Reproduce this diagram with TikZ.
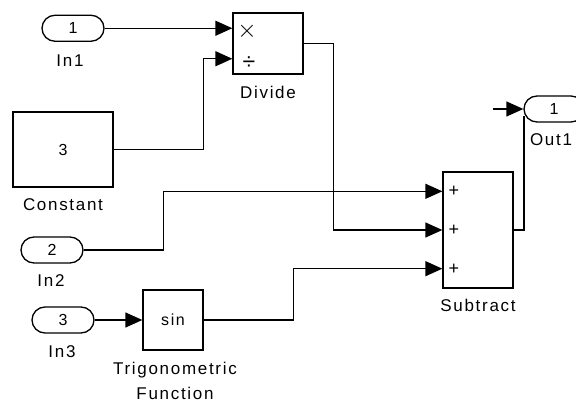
\documentclass[tikz,border=0pt]{standalone}
\usepackage{fontspec}
\setmainfont{Liberation Sans}[LetterSpace=10]
\usepackage{tikz}
\usetikzlibrary{arrows.meta, positioning, shapes.misc}

\begin{document}
\begin{tikzpicture}[
        x=1pt, y=-1pt,
        portnode/.style={rounded rectangle, draw=black, fill=white, line width=1.3pt, minimum width=62pt, minimum height=26pt, inner sep=0pt, font=\fontsize{16}{16}\selectfont},
        blocknode/.style={rectangle, draw=black, fill=white, line width=1.3pt, inner sep=0pt, font=\fontsize{16}{16}\selectfont},
        nametext/.style={inner sep=0pt, align=center, font=\fontsize{17}{25}\selectfont},
        signsym/.style={inner sep=0pt},
        signal/.style={-{Triangle[length=17pt, width=15pt]}, line width=1.3pt, color=black},
        wire/.style={line width=1.3pt, color=black}
    ]
        \useasboundingbox (0,0) rectangle (576,403);
        \clip (0,0) rectangle (576,403);

        % Inports and outport
        \node[portnode] (in1) at (73, 28.25) {1};
        \node[portnode] (in2) at (52, 250) {2};
        \node[portnode] (in3) at (63, 320) {3};
        \node[portnode, minimum width=60pt] (out1) at (554, 109) {1};
        \node[nametext] (in1label) at (70, 61) {In1};
        \node[nametext] (in2label) at (51, 281) {In2};
        \node[nametext] (in3label) at (62, 352) {In3};
        \node[nametext] (out1label) at (551, 140) {Out1};

        % Blocks
        \node[blocknode, minimum width=100pt, minimum height=75pt] (constant) at (63, 149.5) {3};
        \node[blocknode, minimum width=70pt, minimum height=61pt] (divide) at (268, 43.5) {};
        \node[blocknode, minimum width=70pt, minimum height=116pt] (subtract) at (478, 230) {};
        \node[blocknode, minimum width=60pt, minimum height=60pt] (sin) at (173, 320) {sin};
        \node[nametext] (constlabel) at (63, 205) {Constant};
        \node[nametext] (dividelabel) at (268, 92) {Divide};
        \node[nametext] (sublabel) at (478, 305) {Subtract};
        \node[nametext] (triglabel) at (175, 380.5) {Trigonometric\\Function};

        % Port signs
        \node[signsym, font=\fontsize{28}{28}\selectfont] (mulsign) at (247, 31) {\(\times\)};
        \node[signsym, font=\fontsize{23}{23}\selectfont] (divsign) at (249, 63) {÷};
        \node[signsym, font=\fontsize{18}{18}\selectfont] (plusa) at (454, 191) {+};
        \node[signsym, font=\fontsize{18}{18}\selectfont] (plusb) at (454, 230) {+};
        \node[signsym, font=\fontsize{18}{18}\selectfont] (plusc) at (454, 269) {+};

        % Signal lines
        \coordinate (outtap) at (524, 116);
        \coordinate (outstub) at (493, 109);
        \draw[signal] (in1.east) -- ([yshift=15.25pt]divide.west);
        \draw[signal] (constant.east) -- ++(90,0) |- ([yshift=-15.25pt]divide.west);
        \draw[signal] (divide.east) -- ++(30,0) |- (subtract.west);
        \draw[signal] (in2.east) -- ++(80,0) |- ([yshift=38.7pt]subtract.west);
        \draw[signal] (in3.east) -- (sin.west);
        \draw[signal] (sin.east) -- ++(90,0) |- ([yshift=-38.7pt]subtract.west);
        \draw[wire] (subtract.east) -| (outtap);
        \draw[signal] (outstub) -- (out1.west);
\end{tikzpicture}
\end{document}
